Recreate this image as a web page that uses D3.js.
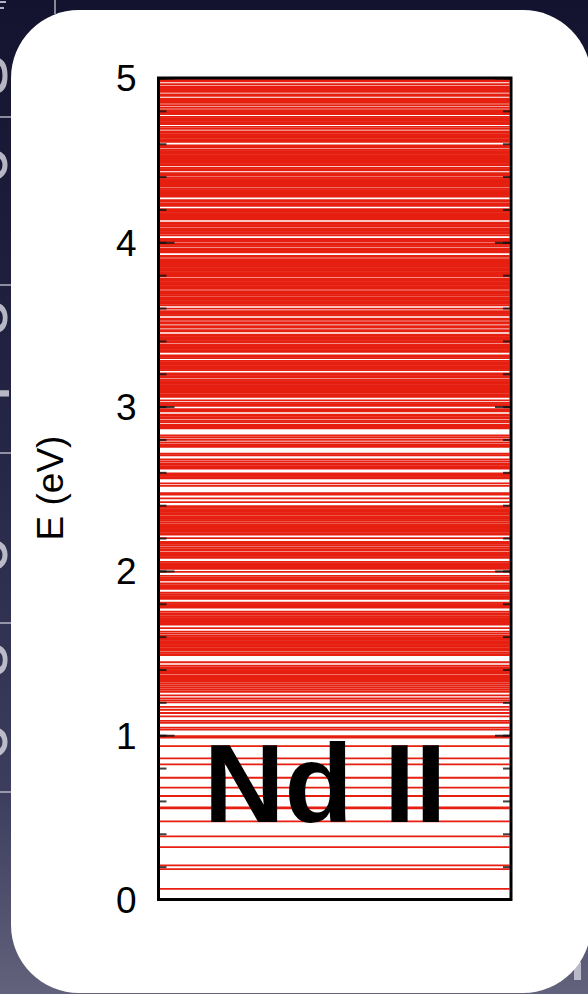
<!DOCTYPE html>
<html>
<head>
<meta charset="utf-8">
<script src="https://cdn.jsdelivr.net/npm/d3@7"></script>
<style>
  html, body { margin: 0; padding: 0; background: #1a1a38; }
  svg { display: block; }
</style>
</head>
<body>
<svg id="chart" width="588" height="994"></svg>
<script>
// Energy levels of singly ionised neodymium (eV above the ground state)
const levelsBelow1eV = [0.000, 0.065, 0.185, 0.208, 0.319, 0.384, 0.475, 0.555, 0.561, 0.630,
  0.681, 0.741, 0.822, 0.859, 0.933, 0.986, 0.994];

const levels1to2eV = [1.034, 1.046, 1.075, 1.087, 1.115, 1.135, 1.155, 1.172, 1.200, 1.212,
  1.224, 1.242, 1.264, 1.276, 1.288, 1.300, 1.312, 1.324, 1.332, 1.340, 1.348, 1.356, 1.364,
  1.376, 1.380, 1.388, 1.396, 1.404, 1.412, 1.424, 1.444, 1.487, 1.494, 1.503, 1.515, 1.521,
  1.530, 1.539, 1.548, 1.556, 1.564, 1.572, 1.580, 1.588, 1.597, 1.606, 1.618, 1.630, 1.652,
  1.673, 1.681, 1.689, 1.697, 1.705, 1.713, 1.721, 1.733, 1.742, 1.752, 1.776, 1.782, 1.790,
  1.798, 1.806, 1.830, 1.839, 1.847, 1.855, 1.867, 1.891, 1.897, 1.905, 1.913, 1.924, 1.942,
  1.950, 1.958, 1.970, 1.994];

const levels2to3eV = [2.012, 2.020, 2.028, 2.036, 2.045, 2.055, 2.079, 2.084, 2.092, 2.100,
  2.109, 2.124, 2.132, 2.143, 2.155, 2.164, 2.176, 2.200, 2.221, 2.229, 2.237, 2.245, 2.253,
  2.261, 2.269, 2.277, 2.285, 2.297, 2.309, 2.317, 2.325, 2.333, 2.345, 2.352, 2.360, 2.368,
  2.376, 2.385, 2.394, 2.418, 2.442, 2.464, 2.473, 2.518, 2.533, 2.564, 2.570, 2.579, 2.588,
  2.594, 2.622, 2.628, 2.636, 2.645, 2.655, 2.667, 2.679, 2.703, 2.713, 2.755, 2.762, 2.770,
  2.782, 2.797, 2.812, 2.824, 2.868, 2.874, 2.882, 2.890, 2.906, 2.914, 2.928, 2.935, 2.943,
  2.951, 2.971, 2.977, 2.984];

const levels3to4eV = [3.004, 3.015, 3.023, 3.038, 3.059, 3.067, 3.075, 3.083, 3.091, 3.099,
  3.107, 3.115, 3.123, 3.131, 3.139, 3.147, 3.155, 3.163, 3.177, 3.186, 3.194, 3.202, 3.222,
  3.230, 3.238, 3.246, 3.254, 3.262, 3.270, 3.278, 3.295, 3.303, 3.311, 3.333, 3.343, 3.351,
  3.359, 3.367, 3.375, 3.390, 3.398, 3.406, 3.414, 3.422, 3.430, 3.438, 3.458, 3.466, 3.481,
  3.490, 3.505, 3.514, 3.528, 3.535, 3.556, 3.565, 3.573, 3.581, 3.596, 3.616, 3.626, 3.634,
  3.642, 3.650, 3.658, 3.666, 3.679, 3.686, 3.694, 3.702, 3.716, 3.725, 3.733, 3.741, 3.749,
  3.757, 3.765, 3.773, 3.781, 3.795, 3.802, 3.810, 3.818, 3.826, 3.834, 3.842, 3.850, 3.858,
  3.866, 3.874, 3.882, 3.890, 3.898, 3.911, 3.917, 3.939, 3.947, 3.955, 3.963, 3.977, 3.985,
  3.993];

const levels4to5eV = [4.006, 4.012, 4.020, 4.043, 4.056, 4.062, 4.069, 4.076, 4.084, 4.097,
  4.104, 4.112, 4.120, 4.139, 4.146, 4.154, 4.162, 4.170, 4.178, 4.186, 4.194, 4.202, 4.222,
  4.230, 4.238, 4.251, 4.257, 4.278, 4.286, 4.294, 4.302, 4.310, 4.318, 4.326, 4.339, 4.345,
  4.353, 4.361, 4.369, 4.377, 4.385, 4.393, 4.406, 4.413, 4.421, 4.438, 4.445, 4.453, 4.468,
  4.475, 4.483, 4.491, 4.499, 4.507, 4.515, 4.523, 4.531, 4.539, 4.547, 4.555, 4.563, 4.576,
  4.582, 4.590, 4.611, 4.619, 4.627, 4.635, 4.643, 4.651, 4.659, 4.667, 4.675, 4.690, 4.703,
  4.720, 4.732, 4.739, 4.747, 4.755, 4.763, 4.781, 4.788, 4.796, 4.804, 4.819, 4.834, 4.848,
  4.859, 4.866, 4.874, 4.891, 4.900, 4.916, 4.923, 4.931, 4.939, 4.948, 4.962, 4.979, 4.987,
  4.995];

const energyTicks = [0, 1, 2, 3, 4, 5];
const energyDomain = [0, 5];
const axisTitle = "E (eV)";
const ionLabel = "Nd II";
// lettering of the slide behind the card, only its edge shows on the left
const slideGlyphs = ["S", "0", "8", "h", "0", "8", "0"];

const allLevels = [].concat(levelsBelow1eV, levels1to2eV, levels2to3eV, levels3to4eV, levels4to5eV);

const W = 588, H = 994;
const plot = { left: 158.5, right: 511, top: 78, bottom: 899.5 };
const FONT = "'Liberation Sans', Arial, Helvetica, sans-serif";

const svg = d3.select("#chart");
const defs = svg.append("defs");

// backdrop: dark slide gradient behind the white card
const bg = defs.append("linearGradient").attr("id", "bgGrad")
  .attr("x1", 0).attr("y1", 0).attr("x2", 0).attr("y2", 1);
bg.append("stop").attr("offset", "0%").attr("stop-color", "#14132f");
bg.append("stop").attr("offset", "45%").attr("stop-color", "#252546");
bg.append("stop").attr("offset", "80%").attr("stop-color", "#3d3d5e");
bg.append("stop").attr("offset", "100%").attr("stop-color", "#62627c");
svg.append("rect").attr("width", W).attr("height", H).attr("fill", "url(#bgGrad)");

// slide tick strokes peeking out on the left edge
const backdrop = svg.append("g").attr("fill", "none").attr("stroke", "#d8d8e4").attr("stroke-opacity", 0.8);
[117, 285, 453, 623, 792].forEach(v => {
  backdrop.append("line").attr("x1", 0).attr("x2", 12).attr("y1", v).attr("y2", v).attr("stroke-width", 1.5);
});
backdrop.append("line").attr("x1", 55).attr("x2", 55).attr("y1", 0).attr("y2", 14).attr("stroke-width", 1.5);
backdrop.append("path").attr("d", "M0,2 H6 M0,8 H4").attr("stroke-width", 2);

// slide lettering, rotated, mostly hidden by the card
const glyphY = [75, 165, 318, 405, 555, 660, 742];
const glyphs = svg.append("g").attr("fill", "#dcdce6").attr("fill-opacity", 0.8)
  .attr("font-family", FONT).attr("font-size", 70);
slideGlyphs.forEach((t, i) => {
  glyphs.append("text").attr("transform", `translate(-18,${glyphY[i]}) rotate(90)`)
    .attr("text-anchor", "middle").attr("dy", "0.35em").text(t);
});
svg.append("rect").attr("x", 574).attr("y", 962).attr("width", 7).attr("height", 18)
  .attr("fill", "#d0d0dc").attr("opacity", 0.8);

// white rounded card
svg.append("rect")
  .attr("x", 11).attr("y", 10).attr("width", 580).attr("height", 983)
  .attr("rx", 68).attr("ry", 68)
  .attr("fill", "#ffffff");

const y = d3.scaleLinear().domain(energyDomain).range([plot.bottom, plot.top]);

// energy levels
svg.append("g").attr("class", "levels")
  .selectAll("line").data(allLevels).join("line")
  .attr("x1", plot.left + 1.5).attr("x2", plot.right - 1.5)
  .attr("y1", d => y(d)).attr("y2", d => y(d))
  .attr("stroke", "#e61f10").attr("stroke-width", 1.8);

// minor ticks (inside, both sides)
const minorTicks = y.ticks(25);
function styleTicks(g) {
  g.select(".domain").remove();
  g.selectAll(".tick line").attr("stroke", "#111").attr("stroke-opacity", 0.8).attr("stroke-width", 2);
}
svg.append("g").attr("transform", `translate(${plot.left},0)`)
  .call(d3.axisLeft(y).tickValues(minorTicks).tickSize(-8).tickFormat(""))
  .call(styleTicks);
svg.append("g").attr("transform", `translate(${plot.right},0)`)
  .call(d3.axisRight(y).tickValues(minorTicks).tickSize(-8).tickFormat(""))
  .call(styleTicks);

// major ticks with labels
const leftAxis = svg.append("g").attr("transform", `translate(${plot.left},0)`)
  .call(d3.axisLeft(y).tickValues(energyTicks).tickSize(-16).tickPadding(22).tickFormat(d3.format("d")))
  .call(styleTicks);
leftAxis.selectAll(".tick text")
  .attr("font-family", FONT)
  .attr("font-size", 37).attr("fill", "#000").attr("dy", "0.35em");
svg.append("g").attr("transform", `translate(${plot.right},0)`)
  .call(d3.axisRight(y).tickValues(energyTicks).tickSize(-16).tickFormat(""))
  .call(styleTicks);

// frame
svg.append("rect")
  .attr("x", plot.left).attr("y", plot.top)
  .attr("width", plot.right - plot.left).attr("height", plot.bottom - plot.top)
  .attr("fill", "none").attr("stroke", "#000").attr("stroke-width", 3);

// axis title
svg.append("text")
  .attr("transform", `translate(63,${488}) rotate(-90)`)
  .attr("text-anchor", "middle")
  .attr("font-family", FONT)
  .attr("font-size", 37).attr("fill", "#000")
  .text(axisTitle);

// ion label
svg.append("text")
  .attr("x", 325).attr("y", 822)
  .attr("text-anchor", "middle")
  .attr("font-family", FONT)
  .attr("font-weight", "bold").attr("font-size", 112).attr("fill", "#000")
  .text(ionLabel);
</script>
</body>
</html>
